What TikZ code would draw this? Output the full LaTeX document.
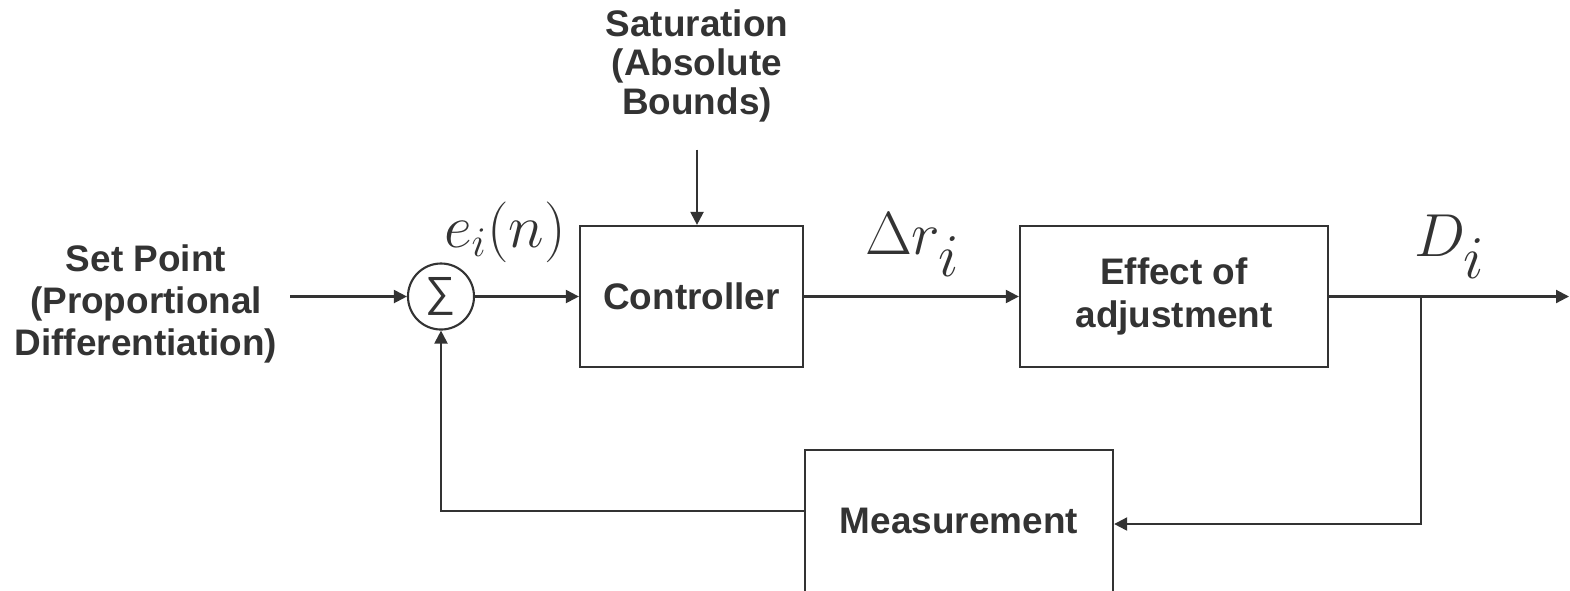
\documentclass[tikz,border=0pt]{standalone}
\usepackage{fontspec}
\setsansfont{Liberation Sans}
\usetikzlibrary{arrows.meta}
\definecolor{ctlgray}{HTML}{333333}
\newcommand{\lowsub}[2]{$#1$\kern-0.5pt\raisebox{-2.2mm}{$#2$}}

\begin{document}
\begin{tikzpicture}[x=0.01cm, y=-0.01cm, line width=0.6pt,
  >={Triangle[length=1.3mm, width=1.3mm]},
  conn/.style={draw=ctlgray},
  blk/.style={draw=ctlgray, fill=white, line width=0.6pt, inner sep=0pt},
  lbl/.style={font=\sffamily\bfseries\fontsize{10.5}{12}\selectfont, text=ctlgray, align=center},
  sig/.style={font=\fontsize{16.5}{18}\selectfont, text=ctlgray}]
  \clip (0,0) rectangle (1570,590);
  % blocks
  \node[blk, circle, minimum size=0.66cm, text=ctlgray] (sum) at (441,296.5) {\sffamily\fontsize{12}{14}\selectfont ∑};
  \node[blk, minimum width=2.23cm, minimum height=1.41cm, lbl] (ctrl) at (691.5,296.5) {Controller};
  \node[blk, minimum width=3.08cm, minimum height=1.41cm, lbl] (eff) at (1174,296.5) {Effect of\\adjustment};
  \node[blk, minimum width=3.08cm, minimum height=1.42cm, lbl] (meas) at (959,521) {Measurement};
  % texts
  \node[lbl] (sp) at (146,304) {Set Point\\(Proportional\\Differentiation)};
  \node[lbl, font=\sffamily\bfseries\fontsize{10.5}{11}\selectfont] (sat) at (697,66) {Saturation\\(Absolute\\Bounds)};
  \node[sig] (err) at (505,232) {$e_i(n)$};
  \node[sig] (dr) at (912,245) {\lowsub{\Delta r}{i}};
  \node[sig] (dd) at (1449,247) {\lowsub{D}{i}};
  \coordinate (br) at (1421,296.5);
  \coordinate (out) at (1569,296.5);
  % connectors
  \draw[conn, ->] ([yshift=-0.15cm]sat.south) -- (sat.south |- ctrl.north);
  \draw[conn, ->] (sp.east |- sum.west) -- (sum.west);
  \draw[conn, ->] (sum.east) -- (ctrl.west);
  \draw[conn, ->] (ctrl.east) -- (eff.west);
  \draw[conn] (eff.east) -- (br);
  \draw[conn, ->] (br) -- (out);
  \draw[conn, ->] (br) |- ([yshift=-0.03cm]meas.east);
  \draw[conn, ->] ([yshift=0.1cm]meas.west) -| (sum.south);
\end{tikzpicture}
\end{document}
